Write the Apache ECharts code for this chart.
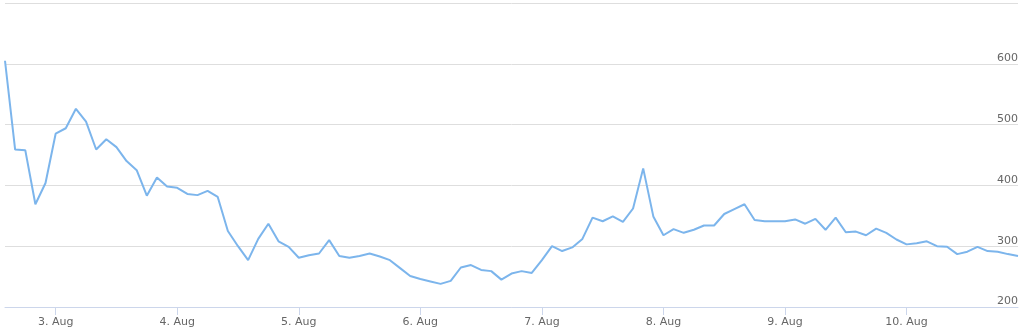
<!DOCTYPE html>
<html>
<head>
<meta charset="utf-8">
<script src="https://cdn.jsdelivr.net/npm/echarts@6/dist/echarts.min.js"></script>
<style>
html,body{margin:0;padding:0;background:#fff;}
#chart{width:1024px;height:330px;}
</style>
</head>
<body>
<div id="chart"></div>
<script>
// Series: one reading every 2 hours, from 2 Aug 14:00 to 10 Aug 22:00
var seriesStart = Date.UTC(2016, 7, 2, 14);
var stepHours = 2;
var values = [
  605, 459, 458, 369, 404, 485, 494, 526, 505, 459,
  476, 463, 440, 425, 383, 413, 398, 396, 386, 384,
  391, 381, 325, 300, 277, 312, 337, 308, 299, 281,
  285, 288, 310, 284, 281, 284, 288, 283, 277, 264,
  251, 246, 242, 238, 243, 265, 269, 261, 259, 245,
  255, 259, 256, 277, 300, 292, 298, 312, 347, 341,
  349, 340, 362, 428, 349, 318, 328, 322, 327, 334,
  334, 353, 361, 369, 343, 341, 341, 341, 344, 337,
  345, 327, 347, 323, 324, 318, 329, 322, 311, 303,
  305, 308, 300, 299, 287, 291, 299, 292, 291, 287,
  284
];
// x-axis tick dates (August) and labels
var tickDays = [3, 4, 5, 6, 7, 8, 9, 10];
var tickLabels = ['3. Aug', '4. Aug', '5. Aug', '6. Aug', '7. Aug', '8. Aug', '9. Aug', '10. Aug'];
// y-axis ticks
var yTicks = [200, 300, 400, 500, 600, 700];

var HOUR = 3600000;
var points = values.map(function (v, i) { return [seriesStart + i * stepHours * HOUR, v]; });
var tickValues = tickDays.map(function (d) { return Date.UTC(2016, 7, d); });
var labelMap = {};
tickValues.forEach(function (t, i) { labelMap[t] = tickLabels[i]; });

var chart = echarts.init(document.getElementById('chart'), null, { renderer: 'canvas' });
chart.setOption({
  animation: false,
  backgroundColor: '#ffffff',
  grid: { left: 5, right: 6, top: 3, bottom: 23, containLabel: false },
  xAxis: {
    type: 'value',
    min: points[0][0],
    max: points[points.length - 1][0],
    splitLine: { show: false },
    axisLine: { show: true, lineStyle: { color: '#ccd6eb', width: 1 } },
    axisTick: { show: true, customValues: tickValues, length: 8, lineStyle: { color: '#ccd6eb' } },
    axisLabel: {
      customValues: tickValues,
      formatter: function (v) { return labelMap[v] || ''; },
      color: '#666666',
      fontFamily: 'DejaVu Sans',
      fontSize: 11,
      margin: 10
    }
  },
  yAxis: {
    type: 'value',
    position: 'right',
    min: yTicks[0],
    max: yTicks[yTicks.length - 1],
    interval: 100,
    axisLine: { show: false },
    axisTick: { show: false },
    splitLine: { show: true, lineStyle: { color: '#dedede', width: 1 } },
    axisLabel: {
      inside: true,
      margin: 0,
      showMaxLabel: false,
      verticalAlign: 'bottom',
      color: '#666666',
      fontFamily: 'DejaVu Sans',
      fontSize: 11
    }
  },
  series: [{
    type: 'line',
    data: points,
    showSymbol: false,
    symbol: 'none',
    lineStyle: { color: '#7cb5ec', width: 2 },
    itemStyle: { color: '#7cb5ec' }
  }]
});
</script>
</body>
</html>
